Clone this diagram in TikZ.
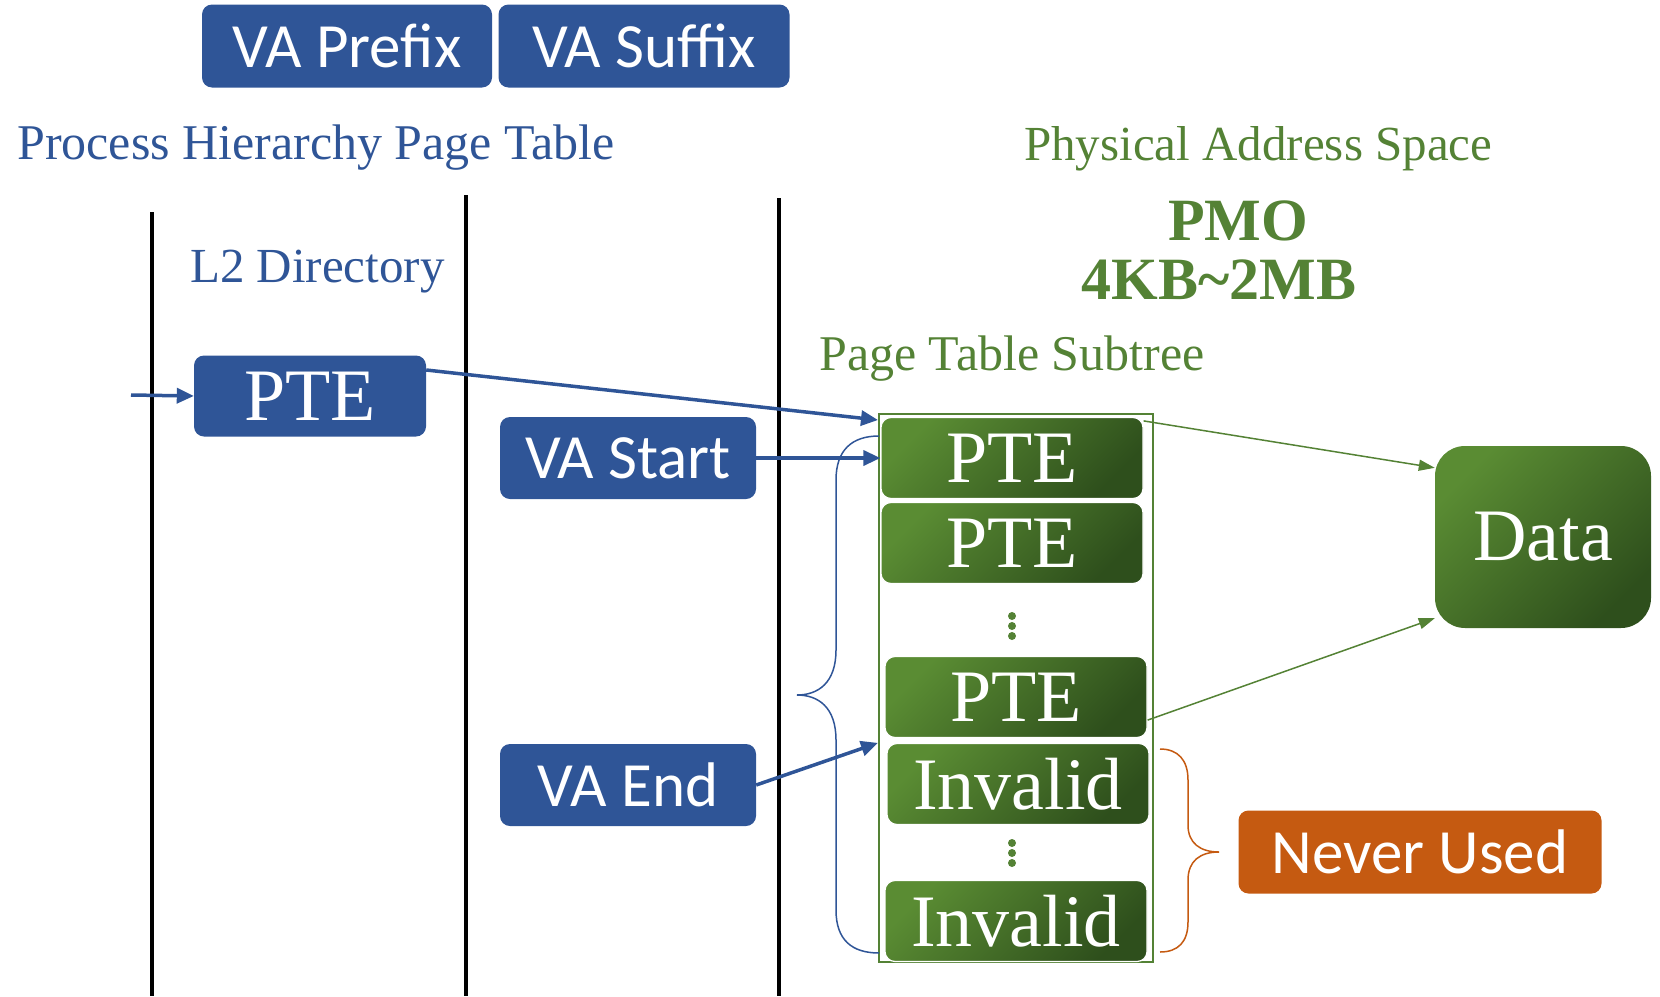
\documentclass[tikz,border=0pt]{standalone}
\usepackage{fontspec}
\setmainfont{Liberation Serif}
\newfontfamily\labelsans{Carlito}
\usetikzlibrary{arrows.meta}
\definecolor{ptblue}{HTML}{2F5597}
\definecolor{ptgreen}{HTML}{548235}
\definecolor{ptgreenlight}{HTML}{5A8C33}
\definecolor{ptgreendark}{HTML}{2E4F1C}
\definecolor{ptorange}{HTML}{C55A11}
\tikzset{
	font=\fontsize{50}{50}\selectfont,
	>={Triangle[length=17pt,width=15pt]},
	title/.style={anchor=base west, inner sep=0pt},
	pmo/.style={inner sep=0pt, text=ptgreen, font=\bfseries\fontsize{60}{60}\selectfont},
	box/.style={rounded corners=10pt, inner sep=0pt, text=white},
	sansbox/.style={box, fill=ptblue, font=\labelsans\fontsize{63}{63}\selectfont},
	serifbox/.style={box, font=\fontsize{74}{74}\selectfont},
	entry/.style={serifbox, draw=white, line width=1.2pt, top color=ptgreenlight,
		bottom color=ptgreendark, shading angle=45, minimum width=262, minimum height=81},
	rule/.style={line width=3.5pt},
	bluearrow/.style={->, ptblue, line width=3.5pt},
	greenarrow/.style={-{Triangle[length=16pt,width=11pt]}, ptgreen, line width=1.5pt}
}

\begin{document}
\begin{tikzpicture}[x=1pt, y=-1pt]
\useasboundingbox (0,0) rectangle (1660,996);

% virtual address split
\node[sansbox, minimum width=290, minimum height=83] (prefix) at (347,46) {VA Prefix};
\node[sansbox, minimum width=291, minimum height=83] (suffix) at (644,46) {VA Suffix};

% titles
\node[title, text=ptblue] (ptable) at (17,159) {Process Hierarchy Page Table};
\node[title, text=ptblue, font=\fontsize{49}{49}\selectfont] (l2dir) at (190,282) {L2 Directory};
\node[title, text=ptgreen, font=\fontsize{49}{49}\selectfont] (phys) at (1024,160) {Physical Address Space};
\node[title, text=ptgreen] (subtitle) at (819,370) {Page Table Subtree};
\node[pmo, anchor=base] (pmo) at (1238,240) {PMO};
\node[pmo, anchor=base] (pmosize) at (1219,299) {4KB\textasciitilde2MB};

% level boundaries
\draw[rule] (152,212) -- (152,996);
\draw[rule] (466,195) -- (466,996);
\draw[rule] (779,198) -- (779,996);

% L2 entry and range
\node[serifbox, fill=ptblue, minimum width=232, minimum height=81] (l2pte) at (310,396) {PTE};
\node[sansbox, minimum width=256, minimum height=82] (vastart) at (628,458) {VA Start};
\node[sansbox, minimum width=256, minimum height=82] (vaend) at (628,785) {VA End};

% subtree
\node[draw=ptgreen, line width=2pt, minimum width=274, minimum height=548, inner sep=0pt] (subtree) at (1016,688) {};
\node[entry] (pte1) at (1012,458) {PTE};
\node[entry] (pte2) at (1012,543) {PTE};
\node[entry] (pte3) at (1016,697) {PTE};
\node[entry] (inv1) at (1018,784) {Invalid};
\node[entry] (inv2) at (1016,921) {Invalid};
\foreach \y in {616,626,636,843,853,863}
	\fill[ptgreen] (1012,\y) circle (4pt);

% target
\node[serifbox, rounded corners=30pt, top color=ptgreenlight, bottom color=ptgreendark,
	shading angle=45, minimum width=216, minimum height=182] (data) at (1543,537) {Data};
\node[sansbox, fill=ptorange, minimum width=363, minimum height=83] (never) at (1420,852) {Never Used};

% arrows
\coordinate (feed) at (131,395);
\draw[bluearrow] (feed) -- (l2pte.west);
\draw[bluearrow] ([yshift=26pt]l2pte.east) -- ([yshift=-7pt]subtree.north west);
\draw[bluearrow] (vastart.east) -- (pte1.west);
\draw[bluearrow] (vaend.east) -- (subtree.west |- inv1.north);
\draw[greenarrow] ([yshift=-4pt]pte1.north east) -- ([yshift=-22pt]data.north west);
\draw[greenarrow] ([yshift=18pt]pte3.south east) -- ([yshift=10pt]data.south west);

% braces
\draw[ptblue, line width=1.5pt] (879,436) .. controls (852,436) and (836,450) .. (836,480)
	-- (836,650) .. controls (836,683) and (818,695) .. (797,695)
	.. controls (818,695) and (836,707) .. (836,740) -- (836,910)
	.. controls (836,940) and (852,953) .. (879,953);
\draw[ptorange, line width=1.5pt] (1160,749) .. controls (1178,749) and (1188,760) .. (1188,780)
	-- (1188,825) .. controls (1188,843) and (1200,852) .. (1219,852)
	.. controls (1200,852) and (1188,861) .. (1188,880) -- (1188,922)
	.. controls (1188,942) and (1178,952) .. (1160,952);

\end{tikzpicture}
\end{document}
